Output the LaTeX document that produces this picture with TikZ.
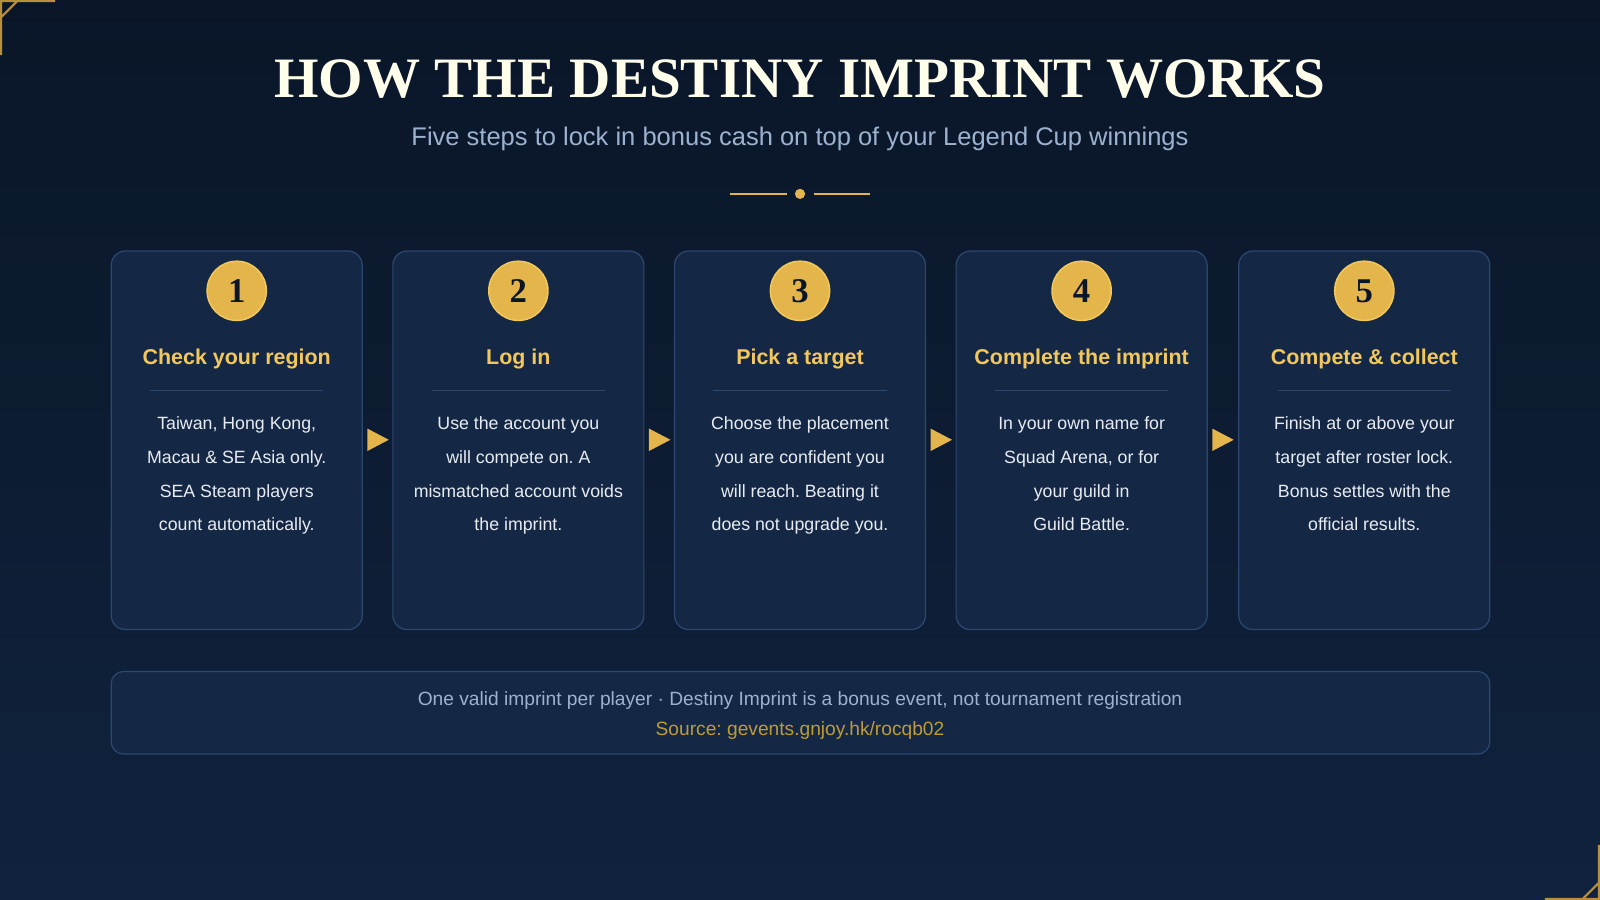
\documentclass[tikz,border=0pt]{standalone}
\usepackage{fontspec}
\setmainfont{Liberation Sans}
\newfontfamily\titlefont{Liberation Serif}
\usetikzlibrary{positioning}
\definecolor{bgtop}{HTML}{0A1628}
\definecolor{bgbot}{HTML}{10223D}
\definecolor{cardfill}{HTML}{142845}
\definecolor{cardline}{HTML}{2C4770}
\definecolor{gold}{HTML}{E3B54A}
\definecolor{goldt}{HTML}{F2C75C}
\definecolor{goldline}{HTML}{B8903C}
\definecolor{sub}{HTML}{9DB2CF}
\definecolor{bodyc}{HTML}{E8ECF2}
\tikzset{
 card/.style={draw=cardline,line width=1.2pt,fill=cardfill,rounded corners=14pt},
 num/.style={circle,fill=gold,draw=goldt,line width=1.5pt,minimum size=58pt,inner sep=0pt,font=\titlefont\bfseries\fontsize{34}{34}\selectfont,text=bgtop},
 stitle/.style={text=goldt,font=\bfseries\fontsize{21}{24}\selectfont},
 body/.style={text=bodyc,align=center,font=\fontsize{17.4}{33}\selectfont,anchor=north},
 arr/.style={fill=gold},
}
\begin{document}
\frenchspacing
\begin{tikzpicture}[x=1pt,y=-1pt]
\useasboundingbox (0,0) rectangle (1568,882);
\shade[top color=bgtop,bottom color=bgbot] (0,0) rectangle (1568,882);
% corners
\draw[goldline,line width=2pt] (1,54) -- (1,1) -- (54,1) (1,17) -- (17,1);
\draw[goldline,line width=2pt] (1567,828) -- (1567,881) -- (1514,881) (1567,865) -- (1551,881);
\node[text=white!92!yellow,font=\titlefont\bfseries\fontsize{56}{60}\selectfont] (title) at (784,77) {HOW THE DESTINY IMPRINT WORKS};
\node[text=sub,font=\fontsize{25}{28}\selectfont] (subt) at (784,136) {Five steps to lock in bonus cash on top of your Legend Cup winnings};
\draw[gold,line width=2pt] (715,190) -- (771,190) (798,190) -- (853,190);
\fill[gold] (784,190) circle (5);
\foreach \i/\x/\t/\b in {
 1/109/{Check your region}/{Taiwan, Hong Kong,\\Macau \& SE Asia only.\\SEA Steam players\\count automatically.},
 2/385/{Log in}/{Use the account you\\will compete on. A\\mismatched account voids\\the imprint.},
 3/661/{Pick a target}/{Choose the placement\\you are confident you\\will reach. Beating it\\does not upgrade you.},
 4/937/{Complete the imprint}/{In your own name for\\Squad Arena, or for\\your guild in\\Guild Battle.},
 5/1214/{Compete \& collect}/{Finish at or above your\\target after roster lock.\\Bonus settles with the\\official results.}}{
 \draw[card] (\x,246) rectangle ++(246,371);
 \node[num] (n\i) at (\x+123,285) {\i};
 \node[stitle] (t\i) at (\x+123,352) {\t};
 \draw[cardline,line width=1.2pt] (\x+38,383) -- (\x+208,383);
 \node[body] (b\i) at (\x+123,405) {\b};
}
\foreach \x in {360,636,912,1188}{
 \fill[arr] (\x,420) -- (\x+21,431) -- (\x,442) -- cycle;
}
\draw[card,rounded corners=12pt] (109,658) rectangle (1460,739);
\node[text=sub,font=\fontsize{18.8}{20}\selectfont] (f1) at (784,687) {One valid imprint per player · Destiny Imprint is a bonus event, not tournament registration};
\node[text=goldline!90!yellow,font=\fontsize{18.8}{20}\selectfont] (f2) at (784,716) {Source: gevents.gnjoy.hk/rocqb02};
\end{tikzpicture}
\end{document}
